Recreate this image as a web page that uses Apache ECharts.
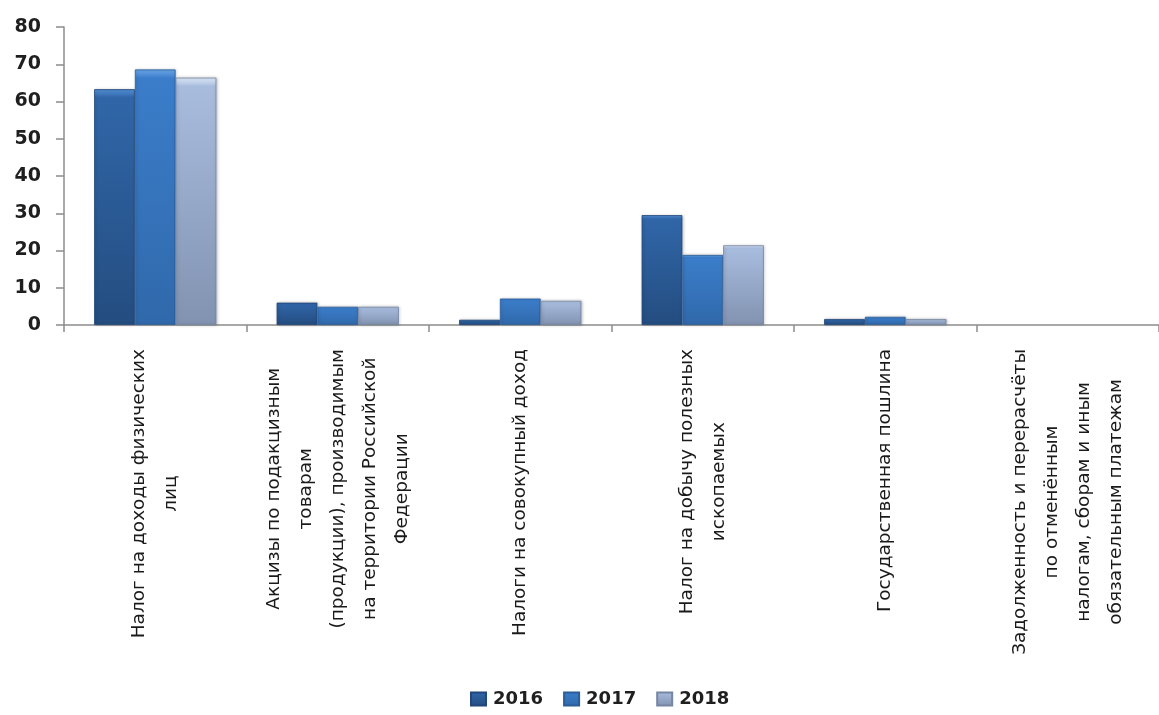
<!DOCTYPE html>
<html>
<head>
<meta charset="utf-8">
<script src="https://cdn.jsdelivr.net/npm/echarts@6/dist/echarts.min.js"></script>
<style>
  html, body { margin: 0; padding: 0; background: #fff; }
  #chart { width: 1159px; height: 715px; }
</style>
</head>
<body>
<div id="chart"></div>
<script>
// Tax revenue categories (line breaks as shown under the axis)
const categories = [
  'Налог на доходы физических\nлиц',
  'Акцизы по подакцизным\nтоварам\n(продукции), производимым\nна территории Российской\nФедерации',
  'Налоги на совокупный доход',
  'Налог на добычу полезных\nископаемых',
  'Государственная пошлина',
  'Задолженность и перерасчёты\nпо отменённым\nналогам, сборам и иным\nобязательным платежам'
];
const years = ['2016', '2017', '2018'];
const values2016 = [63.3, 6.0, 1.4, 29.5, 1.6, 0];
const values2017 = [68.6, 4.9, 7.1, 18.8, 2.2, 0];
const values2018 = [66.4, 4.9, 6.5, 21.4, 1.6, 0];
const yTicks = [0, 10, 20, 30, 40, 50, 60, 70, 80];

const palette = [
  { top: '#5490d6', mid: '#3066a8', bottom: '#244d80', edge: '#21467a' },
  { top: '#6aa6e8', mid: '#3b7dca', bottom: '#3069ab', edge: '#2b5c98' },
  { top: '#e0eaf9', mid: '#a8bcde', bottom: '#8293b1', edge: '#7585a2' }
];

// Vertical shading with a light bevel on top; side edges come from a darker rim
function barStyle(p) {
  return {
    color: {
      type: 'linear', x: 0, y: 0, x2: 0, y2: 1,
      colorStops: [
        { offset: 0, color: p.top },
        { offset: 0.035, color: p.mid },
        { offset: 1, color: p.bottom }
      ]
    },
    borderColor: p.edge,
    borderWidth: 0.8,
    shadowColor: 'rgba(0,0,0,0.22)',
    shadowBlur: 3,
    shadowOffsetX: 1
  };
}

const seriesData = [values2016, values2017, values2018];

const chart = echarts.init(document.getElementById('chart'));
chart.setOption({
  backgroundColor: '#ffffff',
  animation: false,
  grid: { left: 64, top: 27, width: 1105, height: 298, containLabel: false },
  legend: {
    data: years,
    bottom: 2,
    left: 465,
    icon: 'rect',
    itemWidth: 15,
    itemHeight: 13,
    itemGap: 20,
    textStyle: { fontFamily: 'DejaVu Sans', fontSize: 18, fontWeight: 'bold', color: '#1f1f1f', padding: [0, 0, 0, 2] }
  },
  xAxis: {
    type: 'category',
    data: categories,
    axisLine: { lineStyle: { color: '#8c8c8c', width: 1.5 } },
    axisTick: { show: true, length: 7, lineStyle: { color: '#8c8c8c', width: 1.5 } },
    axisLabel: {
      interval: 0,
      rotate: 90,
      margin: 24,
      fontFamily: 'DejaVu Sans',
      fontSize: 18,
      color: '#1a1a1a',
      formatter: function (v) {
        return v.split('\n').map(function (l) { return '{c|' + l + '}'; }).join('\n');
      },
      rich: {
        c: { align: 'center', fontFamily: 'DejaVu Sans', fontSize: 18.5, lineHeight: 32, color: '#1a1a1a' }
      }
    }
  },
  yAxis: {
    type: 'value',
    min: yTicks[0],
    max: yTicks[yTicks.length - 1],
    interval: 10,
    splitLine: { show: false },
    axisLine: { show: true, lineStyle: { color: '#8c8c8c', width: 1.5 } },
    axisTick: { show: true, length: 8, lineStyle: { color: '#8c8c8c', width: 1.5 } },
    axisLabel: {
      margin: 23,
      fontFamily: 'DejaVu Sans',
      fontSize: 19,
      fontWeight: 'bold',
      color: '#1f1f1f'
    }
  },
  series: years.map(function (y, i) {
    return {
      name: y,
      type: 'bar',
      data: seriesData[i].map(function (v) {
        // a zero-height bar should leave no visible rim
        return v === 0 ? { value: v, itemStyle: { borderWidth: 0, shadowBlur: 0 } } : v;
      }),
      barGap: '0%',
      barCategoryGap: '33%',
      itemStyle: barStyle(palette[i])
    };
  })
});
</script>
</body>
</html>
